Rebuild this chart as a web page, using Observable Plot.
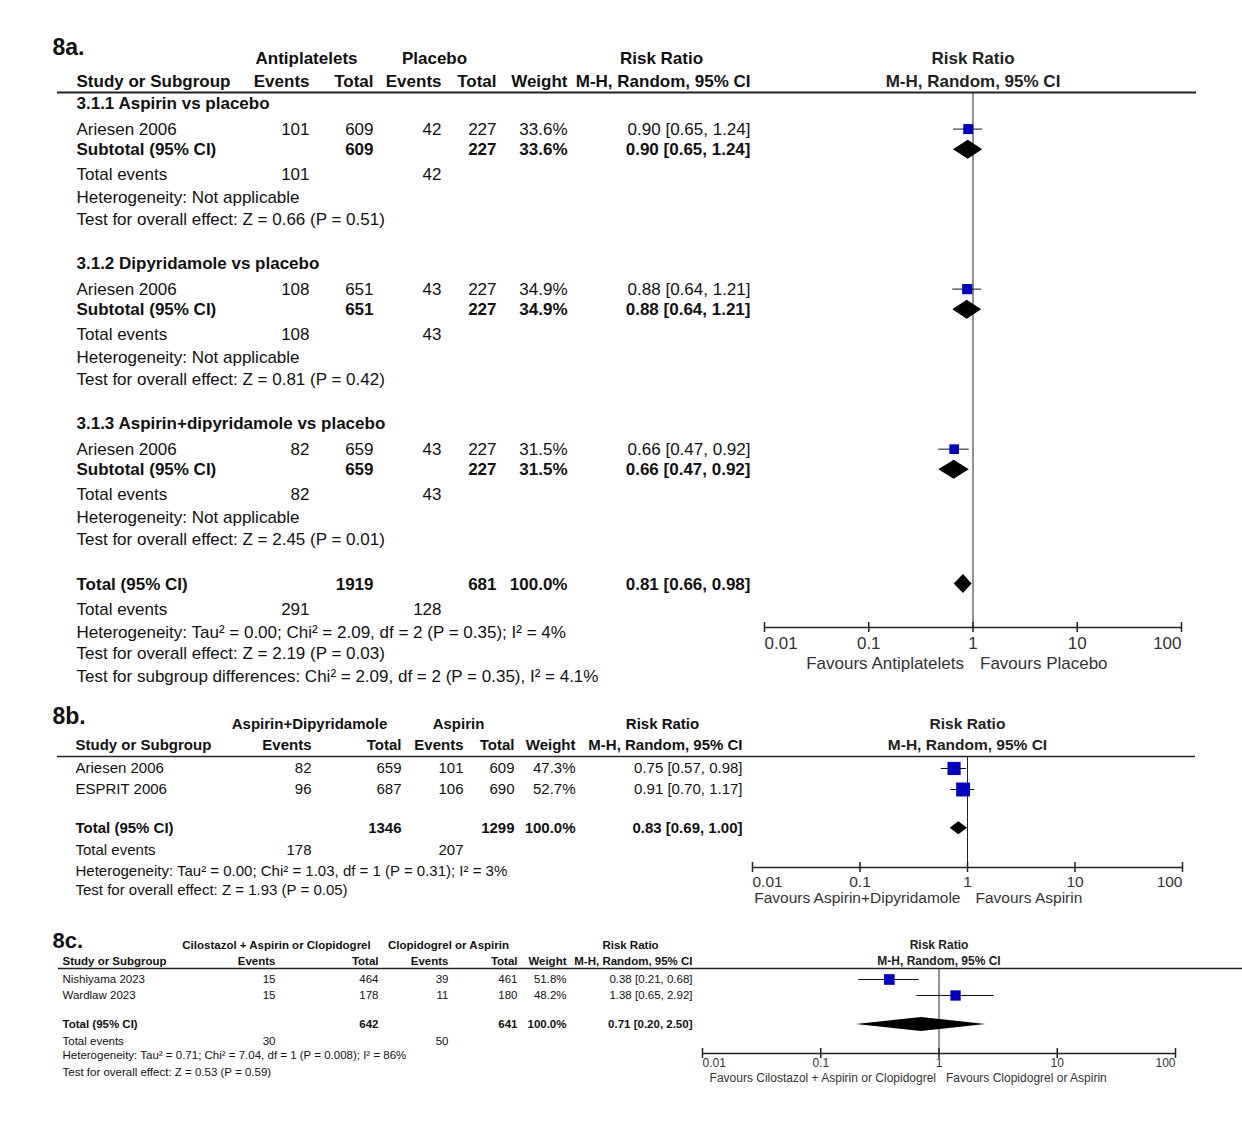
<!DOCTYPE html>
<html><head><meta charset="utf-8">
<script src="https://cdn.jsdelivr.net/npm/d3@7"></script>
<script src="https://cdn.jsdelivr.net/npm/@observablehq/plot@0.6"></script>
<style>
body{margin:0;background:#fff;font-family:"Liberation Sans",Arial,sans-serif;}
#wrap{position:relative;width:1242px;height:1127px;background:#fff;}
#wrap svg{position:absolute;left:0;}
</style></head><body><div id="wrap"></div>
<script>
// ================= DATA =================
const xTicks = [0.01, 0.1, 1, 10, 100];

// ---- 8a ----
const aArms = ["Antiplatelets", "Placebo"];
const aGroupTitles = ["3.1.1 Aspirin vs placebo", "3.1.2 Dipyridamole vs placebo", "3.1.3 Aspirin+dipyridamole vs placebo"];
const aStudy = ["Ariesen 2006", "Ariesen 2006", "Ariesen 2006"];
const aEventsT = [101, 108, 82];
const aTotalT = [609, 651, 659];
const aEventsC = [42, 43, 43];
const aTotalC = [227, 227, 227];
const aWeight = [33.6, 34.9, 31.5];
const aRR = [0.90, 0.88, 0.66];
const aLow = [0.65, 0.64, 0.47];
const aHigh = [1.24, 1.21, 0.92];
const aSubHet = ["Heterogeneity: Not applicable", "Heterogeneity: Not applicable", "Heterogeneity: Not applicable"];
const aSubTest = ["Test for overall effect: Z = 0.66 (P = 0.51)", "Test for overall effect: Z = 0.81 (P = 0.42)", "Test for overall effect: Z = 2.45 (P = 0.01)"];
const aOverallCounts = [291, 1919, 128, 681];
const aOverallRR = [0.81, 0.66, 0.98];
const aFooter = ["Heterogeneity: Tau² = 0.00; Chi² = 2.09, df = 2 (P = 0.35); I² = 4%",
  "Test for overall effect: Z = 2.19 (P = 0.03)",
  "Test for subgroup differences: Chi² = 2.09, df = 2 (P = 0.35), I² = 4.1%"];
const aFavours = ["Favours Antiplatelets", "Favours Placebo"];

// ---- 8b ----
const bArms = ["Aspirin+Dipyridamole", "Aspirin"];
const bStudy = ["Ariesen 2006", "ESPRIT 2006"];
const bEventsT = [82, 96];
const bTotalT = [659, 687];
const bEventsC = [101, 106];
const bTotalC = [609, 690];
const bWeight = [47.3, 52.7];
const bRR = [0.75, 0.91];
const bLow = [0.57, 0.70];
const bHigh = [0.98, 1.17];
const bOverallCounts = [178, 1346, 207, 1299];
const bOverallRR = [0.83, 0.69, 1.00];
const bFooter = ["Heterogeneity: Tau² = 0.00; Chi² = 1.03, df = 1 (P = 0.31); I² = 3%",
  "Test for overall effect: Z = 1.93 (P = 0.05)"];
const bFavours = ["Favours Aspirin+Dipyridamole", "Favours Aspirin"];

// ---- 8c ----
const cArms = ["Cilostazol + Aspirin or Clopidogrel", "Clopidogrel or Aspirin"];
const cStudy = ["Nishiyama 2023", "Wardlaw 2023"];
const cEventsT = [15, 15];
const cTotalT = [464, 178];
const cEventsC = [39, 11];
const cTotalC = [461, 180];
const cWeight = [51.8, 48.2];
const cRR = [0.38, 1.38];
const cLow = [0.21, 0.65];
const cHigh = [0.68, 2.92];
const cOverallCounts = [30, 642, 50, 641];
const cOverallRR = [0.71, 0.20, 2.50];
const cFooter = ["Heterogeneity: Tau² = 0.71; Chi² = 7.04, df = 1 (P = 0.008); I² = 86%",
  "Test for overall effect: Z = 0.53 (P = 0.59)"];
const cFavours = ["Favours Cilostazol + Aspirin or Clopidogrel", "Favours Clopidogrel or Aspirin"];

// ================= HELPERS =================
const f2 = v => v.toFixed(2);
const ciText = (rr, lo, hi) => `${f2(rr)} [${f2(lo)}, ${f2(hi)}]`;
const pct = w => w.toFixed(1) + "%";

function collector() {
  const T = [];
  const add = (row, col, text, bold = false) => T.push({row, col, text: String(text), bold});
  return [T, add];
}
function header(add, L, arms, title) {
  add(L.title, "title", title, true);
  add(L.head1, "armT", arms[0], true);
  add(L.head1, "armC", arms[1], true);
  add(L.head1, "rrHead", "Risk Ratio", true);
  add(L.head1, "forest", "Risk Ratio", true);
  add(L.head2, "study", "Study or Subgroup", true);
  add(L.head2, "evT", "Events", true);
  add(L.head2, "totT", "Total", true);
  add(L.head2, "evC", "Events", true);
  add(L.head2, "totC", "Total", true);
  add(L.head2, "weight", "Weight", true);
  add(L.head2, "ci", "M-H, Random, 95% CI", true);
  add(L.head2, "forest", "M-H, Random, 95% CI", true);
}
function studyRow(add, row, name, eT, tT, eC, tC, w, rr, lo, hi) {
  add(row, "study", name); add(row, "evT", eT); add(row, "totT", tT);
  add(row, "evC", eC); add(row, "totC", tC); add(row, "weight", pct(w));
  add(row, "ci", ciText(rr, lo, hi));
}
function totalRow(add, row, label, tT, tC, w, rr, lo, hi) {
  add(row, "study", label, true); add(row, "totT", tT, true); add(row, "totC", tC, true);
  add(row, "weight", pct(w), true); add(row, "ci", ciText(rr, lo, hi), true);
}

function draw(P) {
  const W = 1242, L = P.L;
  const marks = [];
  // header rule
  marks.push(Plot.ruleY([L.rule], {y: d => d, insetLeft: -(P.ml - P.ruleX[0]), insetRight: -(P.ruleX[1] - (W - P.mr)), stroke: "#222", strokeWidth: P.ruleW}));
  // line of no effect
  marks.push(Plot.ruleX([1], {x: d => d, stroke: "#222", strokeWidth: 1}));
  // axis
  marks.push(Plot.ruleY([L.axis], {y: d => d, x1: () => xTicks[0], x2: () => xTicks[xTicks.length - 1], stroke: "#222", strokeWidth: 1.5}));
  marks.push(Plot.ruleX(xTicks, {x: d => d, y1: () => L.axis - P.tickHalf, y2: () => L.axis + P.tickHalf, stroke: "#222", strokeWidth: 1.5}));
  const n = xTicks.length;
  const tk = {y: () => L.axis, text: d => String(d), dy: P.tickDy, fontSize: P.axisFont, fill: "#333"};
  marks.push(Plot.text(xTicks.slice(0, 1), {...tk, x: d => d, textAnchor: "start"}));
  marks.push(Plot.text(xTicks.slice(1, n - 1), {...tk, x: d => d, textAnchor: "middle"}));
  marks.push(Plot.text(xTicks.slice(n - 1), {...tk, x: d => d, textAnchor: "end"}));
  marks.push(Plot.text([P.favours[0]], {x: () => 1, y: () => L.axis, text: d => d, dy: P.favDy, dx: P.favDx[0], textAnchor: "end", fontSize: P.axisFont, fill: "#333"}));
  marks.push(Plot.text([P.favours[1]], {x: () => 1, y: () => L.axis, text: d => d, dy: P.favDy, dx: P.favDx[1], textAnchor: "start", fontSize: P.axisFont, fill: "#333"}));
  // CIs and squares
  marks.push(Plot.ruleY(P.studies, {x1: "lo", x2: "hi", y: "row", stroke: "#111", strokeWidth: 1}));
  marks.push(Plot.dot(P.studies, {x: "rr", y: "row", r: "w", symbol: "square", fill: "#0000bf"}));
  // diamonds
  const pts = P.diamonds.flatMap((d, i) => [
    {id: i, x: d.lo, y1: d.row, y2: d.row},
    {id: i, x: d.rr, y1: d.row - P.dHalf, y2: d.row + P.dHalf},
    {id: i, x: d.hi, y1: d.row, y2: d.row}]);
  marks.push(Plot.area(pts, {x1: "x", y1: "y1", y2: "y2", z: "id", fill: "#000", curve: "linear"}));
  // texts
  const groups = d3.group(P.texts, d => d.col + "|" + (d.bold ? 1 : 0));
  for (const [key, items] of groups) {
    const col = key.split("|")[0];
    const bold = key.endsWith("|1");
    if (col === "forest") {
      marks.push(Plot.text(items, {y: "row", text: "text", frameAnchor: "middle", fontSize: P.axisFont, fontWeight: "bold", fill: "#222"}));
    } else {
      const c = P.cols[col];
      marks.push(Plot.text(items, {y: "row", text: "text", frameAnchor: "left", dx: c.x - P.ml, textAnchor: c.a,
        fontSize: c.size || P.font, fontWeight: bold ? "bold" : "normal", fill: "#111"}));
    }
  }
  const svg = Plot.plot({
    width: W, height: P.height,
    marginLeft: P.ml, marginRight: P.mr, marginTop: P.mt, marginBottom: P.mb,
    x: {type: "log", domain: [xTicks[0], xTicks[n - 1]], axis: null},
    y: {domain: [L.rule, L.axis], reverse: true, axis: null},
    r: {type: "sqrt", domain: [0, 100], range: [0, P.rk]},
    style: {fontFamily: "'Liberation Sans', Arial, sans-serif", background: "transparent", overflow: "visible"},
    marks
  });
  svg.style.top = P.top + "px";
  return svg;
}

// ================= PANEL 8a =================
const LA = {title: -2.45, head1: -2, head2: -1, rule: -0.5, axis: 22.9, step: 7,
  gTitle: 0, study: 1.1, sub: 2, events: 3.1, het: 4.1, test: 5.05, total: 21, totEvents: 22.1, footer: [23.1, 24.05, 25.05]};
{
  const [T, add] = collector();
  header(add, LA, aArms, "8a.");
  const studies = [], diamonds = [];
  aGroupTitles.forEach((g, i) => {
    const b = i * LA.step;
    add(b + LA.gTitle, "study", g, true);
    studyRow(add, b + LA.study, aStudy[i], aEventsT[i], aTotalT[i], aEventsC[i], aTotalC[i], aWeight[i], aRR[i], aLow[i], aHigh[i]);
    totalRow(add, b + LA.sub, "Subtotal (95% CI)", aTotalT[i], aTotalC[i], aWeight[i], aRR[i], aLow[i], aHigh[i]);
    add(b + LA.events, "study", "Total events"); add(b + LA.events, "evT", aEventsT[i]); add(b + LA.events, "evC", aEventsC[i]);
    add(b + LA.het, "study", aSubHet[i]);
    add(b + LA.test, "study", aSubTest[i]);
    studies.push({row: b + LA.study, rr: aRR[i], lo: aLow[i], hi: aHigh[i], w: aWeight[i]});
    diamonds.push({row: b + LA.sub, rr: aRR[i], lo: aLow[i], hi: aHigh[i]});
  });
  totalRow(add, LA.total, "Total (95% CI)", aOverallCounts[1], aOverallCounts[3], 100, ...aOverallRR);
  add(LA.totEvents, "study", "Total events"); add(LA.totEvents, "evT", aOverallCounts[0]); add(LA.totEvents, "evC", aOverallCounts[2]);
  aFooter.forEach((t, i) => add(LA.footer[i], "study", t));
  diamonds.push({row: LA.total, rr: aOverallRR[0], lo: aOverallRR[1], hi: aOverallRR[2]});
  document.getElementById("wrap").append(draw({
    top: 0, height: 700, ml: 764, mr: 61, mt: 92, mb: 73, L: LA,
    font: 17, axisFont: 17,
    cols: {title: {x: 52, a: "start", size: 23}, study: {x: 76, a: "start"}, evT: {x: 309, a: "end"}, totT: {x: 373, a: "end"},
      evC: {x: 441, a: "end"}, totC: {x: 496, a: "end"}, weight: {x: 567, a: "end"}, ci: {x: 750, a: "end"},
      armT: {x: 306, a: "middle"}, armC: {x: 434, a: "middle"}, rrHead: {x: 661, a: "middle"}},
    ruleX: [57, 1196], ruleW: 2, tickHalf: 0.22, tickDy: 16, favDy: 36, favDx: [-9, 7],
    rk: 9.7, dHalf: 0.415, favours: aFavours, texts: T, studies, diamonds
  }));
}

// ================= PANEL 8b =================
const LB = {title: -2.48, head1: -2.1, head2: -1.1, rule: -0.571, axis: 4.714, study: [0, 1], total: 2.85, totEvents: 3.9, footer: [4.9, 5.8]};
{
  const [T, add] = collector();
  header(add, LB, bArms, "8b.");
  const studies = [];
  bStudy.forEach((s, i) => {
    studyRow(add, LB.study[i], s, bEventsT[i], bTotalT[i], bEventsC[i], bTotalC[i], bWeight[i], bRR[i], bLow[i], bHigh[i]);
    studies.push({row: LB.study[i], rr: bRR[i], lo: bLow[i], hi: bHigh[i], w: bWeight[i]});
  });
  totalRow(add, LB.total, "Total (95% CI)", bOverallCounts[1], bOverallCounts[3], 100, ...bOverallRR);
  add(LB.totEvents, "study", "Total events"); add(LB.totEvents, "evT", bOverallCounts[0]); add(LB.totEvents, "evC", bOverallCounts[2]);
  bFooter.forEach((t, i) => add(LB.footer[i], "study", t));
  const diamonds = [{row: LB.total, rr: bOverallRR[0], lo: bOverallRR[1], hi: bOverallRR[2]}];
  document.getElementById("wrap").append(draw({
    top: 700, height: 215, ml: 752, mr: 60, mt: 56, mb: 48, L: LB,
    font: 15, axisFont: 15.5,
    cols: {title: {x: 52, a: "start", size: 23}, study: {x: 75, a: "start"}, evT: {x: 311, a: "end"}, totT: {x: 401, a: "end"},
      evC: {x: 463, a: "end"}, totC: {x: 514, a: "end"}, weight: {x: 575, a: "end"}, ci: {x: 742, a: "end"},
      armT: {x: 309, a: "middle"}, armC: {x: 458, a: "middle"}, rrHead: {x: 662, a: "middle"}},
    ruleX: [57, 1195], ruleW: 1.6, tickHalf: 0.24, tickDy: 15, favDy: 31, favDx: [-7, 8],
    rk: 10.8, dHalf: 0.31, favours: bFavours, texts: T, studies, diamonds
  }));
}

// ================= PANEL 8c =================
const LC = {title: -2.44, head1: -2.125, head2: -1.125, rule: -0.6875, axis: 4.625, study: [0, 1], total: 2.81, totEvents: 3.875, footer: [4.75, 5.81]};
{
  const [T, add] = collector();
  header(add, LC, cArms, "8c.");
  const studies = [];
  cStudy.forEach((s, i) => {
    studyRow(add, LC.study[i], s, cEventsT[i], cTotalT[i], cEventsC[i], cTotalC[i], cWeight[i], cRR[i], cLow[i], cHigh[i]);
    studies.push({row: LC.study[i], rr: cRR[i], lo: cLow[i], hi: cHigh[i], w: cWeight[i]});
  });
  totalRow(add, LC.total, "Total (95% CI)", cOverallCounts[1], cOverallCounts[3], 100, ...cOverallRR);
  add(LC.totEvents, "study", "Total events"); add(LC.totEvents, "evT", cOverallCounts[0]); add(LC.totEvents, "evC", cOverallCounts[2]);
  cFooter.forEach((t, i) => add(LC.footer[i], "study", t));
  const diamonds = [{row: LC.total, rr: cOverallRR[0], lo: cOverallRR[1], hi: cOverallRR[2]}];
  document.getElementById("wrap").append(draw({
    top: 915, height: 212, ml: 702, mr: 67, mt: 53, mb: 74, L: LC,
    font: 11.5, axisFont: 12,
    cols: {title: {x: 52, a: "start", size: 22}, study: {x: 62, a: "start"}, evT: {x: 275, a: "end"}, totT: {x: 378, a: "end"},
      evC: {x: 448, a: "end"}, totC: {x: 517, a: "end"}, weight: {x: 566, a: "end"}, ci: {x: 692, a: "end"},
      armT: {x: 276, a: "middle"}, armC: {x: 448, a: "middle"}, rrHead: {x: 630, a: "middle"}},
    ruleX: [58, 1242], ruleW: 1.3, tickHalf: 0.31, tickDy: 10, favDy: 25, favDx: [-3, 7],
    rk: 8.4, dHalf: 0.44, favours: cFavours, texts: T, studies, diamonds
  }));
}
</script>
</body></html>
